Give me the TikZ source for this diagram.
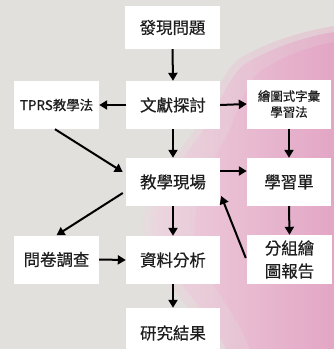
\documentclass[tikz,border=0pt]{standalone}
\usepackage{fontspec}
\setmainfont{Noto Sans CJK TC}[FakeBold=0.5]
\usetikzlibrary{arrows.meta,calc}
\definecolor{bggray}{HTML}{E2E0DC}
\definecolor{pinkL}{HTML}{F0D6E2}
\definecolor{pinkD}{HTML}{E4A2C4}
\definecolor{txt}{HTML}{1E1E1E}
\tikzset{
  box/.style={fill=white, draw=none, inner sep=0pt, align=center, text=txt,
    font=\fontsize{16.5}{23}\selectfont},
  smallbox/.style={box, font=\fontsize{12.5}{16}\selectfont},
  midbox/.style={box, font=\fontsize{13.5}{16}\selectfont},
  arr/.style={line width=2bp, draw=black, -{Triangle[length=8bp,width=9bp]}},
  blob/.style={left color=pinkL, right color=pinkD}
}
\begin{document}
\begin{tikzpicture}[x=1bp,y=-1bp]
\useasboundingbox (0,0) rectangle (334,349);
\clip (0,0) rectangle (334,349);
\fill[bggray] (0,0) rectangle (334,349);
% soft outer halo
\shade[blob, opacity=0.35]
  (240,58) .. controls (275,38) and (310,30) .. (334,26) -- (334,349) -- (215,349)
  .. controls (195,310) and (160,280) .. (145,245)
  .. controls (132,200) and (175,160) .. (203,118)
  .. controls (216,92) and (226,68) .. (240,58) -- cycle;
\shade[blob, opacity=0.6]
  (248,62) .. controls (280,44) and (310,36) .. (334,32) -- (334,349) -- (226,349)
  .. controls (208,310) and (170,278) .. (155,242)
  .. controls (142,200) and (185,160) .. (210,120)
  .. controls (223,94) and (234,70) .. (248,62) -- cycle;
\shade[left color=pinkL!70!pinkD, right color=pinkD, opacity=0.7]
  (262,70) .. controls (290,52) and (315,46) .. (334,42) -- (334,349) -- (250,349)
  .. controls (235,310) and (205,280) .. (195,245)
  .. controls (188,200) and (215,160) .. (232,125)
  .. controls (240,100) and (250,78) .. (262,70) -- cycle;
% nodes
\node[box, minimum width=95bp, minimum height=43bp] (n1) at (172.5,27.5) {發現問題};
\node[box, minimum width=94bp, minimum height=48bp] (n2) at (173,105) {文獻探討};
\node[midbox, minimum width=85bp, minimum height=48bp] (tprs) at (56.5,105) {TPRS教學法};
\node[smallbox, minimum width=84bp, minimum height=49bp] (hui) at (289,104) {繪圖式字彙\\學習法};
\node[box, minimum width=94bp, minimum height=48bp] (n3) at (173,182) {教學現場};
\node[box, minimum width=84bp, minimum height=48bp] (xx) at (289,182) {學習單};
\node[box, minimum width=85bp, minimum height=48bp] (wj) at (56.5,259.5) {問卷調查};
\node[box, minimum width=94bp, minimum height=48bp] (n4) at (173,260) {資料分析};
\node[box, minimum width=85bp, minimum height=49bp] (fz) at (289.5,259.5) {分組繪\\圖報告};
\node[box, minimum width=94bp, minimum height=82bp] (n5) at (173,349) {};
\node[box, anchor=center] (n5t) at (173,333) {研究結果};
% arrows
\draw[arr] (n1.south) -- (n2.north);
\draw[arr] (n2.west) -- (tprs.east);
\draw[arr] (n2.east) -- (hui.west);
\draw[arr] (n2.south) -- (n3.north);
\draw[arr] ($(tprs.south)+(-1.5,0)$) -- ($(n3.west)+(-3,-10)$);
\draw[arr] (hui.south) -- (xx.north);
\draw[arr] ($(n3.east)+(0,-11)$) -- ($(xx.west)+(0,-11)$);
\draw[arr] ($(n3.west)+(-3,11)$) -- (wj.north);
\draw[arr] (n3.south) -- (n4.north);
\draw[arr] (xx.south) -- (fz.north);
\draw[arr] ($(fz.west)+(-1,-1.5)$) -- ($(n3.east)+(1,14)$);
\draw[arr] (wj.east) -- (n4.west);
\draw[arr] (n4.south) -- (n5.north);
\end{tikzpicture}
\end{document}
